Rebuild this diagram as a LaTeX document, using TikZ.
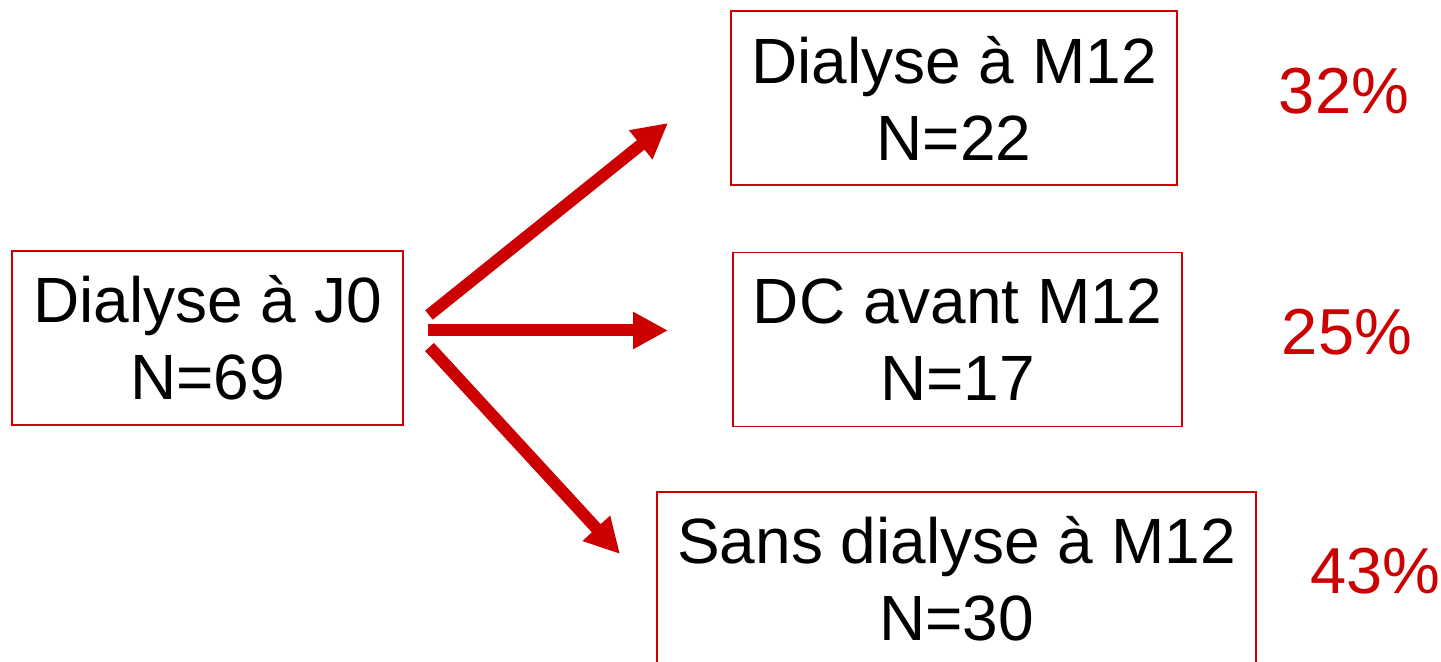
\documentclass[tikz,border=0pt]{standalone}
\usepackage{fontspec}
\setmainfont{Liberation Sans}
\usetikzlibrary{arrows.meta}
\definecolor{flowred}{RGB}{204,0,0}
\begin{document}
\begin{tikzpicture}[x=0.5pt,y=-0.5pt,
  box/.style={draw=flowred,line width=0.75pt,rectangle,inner sep=0pt,
    minimum height=87pt,align=center,
    font=\fontsize{32}{38.5}\selectfont},
  share/.style={text=flowred,inner sep=0pt,anchor=base,
    font=\fontsize{32.5}{38.5}\selectfont},
  flow/.style={draw=flowred,line width=6pt,
    -{Triangle[length=17.5pt,width=17.5pt]}}]
  \clip (0,0) rectangle (1441,662);

  % origin and the three outcomes
  \node[box,minimum width=195.5pt] (j0)   at (207.5,338) {Dialyse à J0\\N=69};
  \node[box,minimum width=223pt]   (dial) at (954,98)    {Dialyse à M12\\N=22};
  \node[box,minimum width=224.5pt] (dc)   at (957.5,339.5) {DC avant M12\\N=17};
  \node[box,minimum width=299.5pt] (sans) at (956.5,579) {Sans dialyse à M12\\N=30};

  % proportions
  \node[share] (p1) at (1344,114)   {32\%};
  \node[share] (p2) at (1347,355)   {25\%};
  \node[share] (p3) at (1375.5,594) {43\%};

  % arrow ends
  \coordinate (a1s) at (429,315);
  \coordinate (a1e) at (668,123);
  \coordinate (a2s) at (428,330.5);
  \coordinate (a2e) at (668,330.5);
  \coordinate (a3s) at (429.5,347);
  \coordinate (a3e) at (620,554);

  \draw[flow] (a1s) -- (a1e);
  \draw[flow] (a2s) -- (a2e);
  \draw[flow] (a3s) -- (a3e);
\end{tikzpicture}
\end{document}
